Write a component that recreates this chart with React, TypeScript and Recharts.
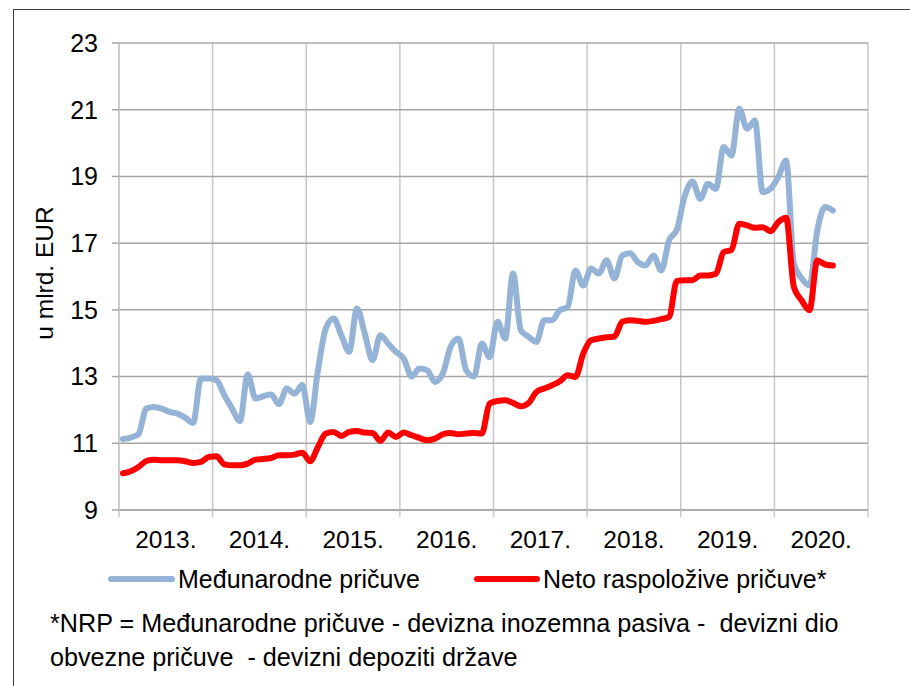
import { CartesianGrid, Line, LineChart, XAxis, YAxis } from "recharts";

const FONT = '"Liberation Sans", Arial, sans-serif';
const BLUE = "#95b3d7";
const RED = "#ff0000";

const YEARS = ["2013.", "2014.", "2015.", "2016.", "2017.", "2018.", "2019.", "2020."];
const Y_TICKS = [9, 11, 13, 15, 17, 19, 21, 23];

// monthly, Jan 2013 - Aug 2020
const MEDUNARODNE = [
  11.13, 11.17, 11.28, 12.04, 12.09, 12.04, 11.94, 11.89, 11.77, 11.61, 12.94, 12.94,
  12.89, 12.44, 12.04, 11.67, 13.06, 12.34, 12.41, 12.46, 12.17, 12.64, 12.49, 12.75,
  11.64, 13.19, 14.44, 14.74, 14.24, 13.74, 15.04, 14.29, 13.49, 14.24, 13.99, 13.74,
  13.54, 13.0, 13.24, 13.19, 12.84, 13.09, 13.89, 14.14, 13.19, 13.0, 13.99, 13.58,
  14.64, 14.14, 16.09, 14.39, 14.19, 14.04, 14.69, 14.69, 14.99, 15.08, 16.18, 15.73,
  16.24, 16.09, 16.49, 15.94, 16.63, 16.7, 16.43, 16.33, 16.63, 16.18, 17.08, 17.4,
  18.4, 18.85, 18.33, 18.78, 18.63, 19.88, 19.63, 21.03, 20.43, 20.68, 18.53, 18.63,
  18.98, 19.48, 16.39, 15.94, 15.73, 17.38, 18.08, 17.98,
];

const NETO = [
  10.1, 10.16, 10.29, 10.47, 10.51, 10.49, 10.49, 10.49, 10.46, 10.41, 10.44, 10.59,
  10.61, 10.37, 10.34, 10.34, 10.39, 10.51, 10.53, 10.56, 10.64, 10.64, 10.66, 10.72,
  10.46, 10.89, 11.29, 11.34, 11.22, 11.34, 11.37, 11.32, 11.31, 11.07, 11.32, 11.19,
  11.32, 11.24, 11.16, 11.09, 11.14, 11.27, 11.31, 11.27, 11.29, 11.31, 11.29, 12.19,
  12.27, 12.29, 12.21, 12.11, 12.21, 12.54, 12.64, 12.74, 12.86, 13.04, 12.99, 13.69,
  14.09, 14.14, 14.18, 14.2, 14.64, 14.69, 14.67, 14.64, 14.67, 14.72, 14.79, 15.87,
  15.89, 15.89, 16.03, 16.03, 16.08, 16.73, 16.8, 17.58, 17.53, 17.46, 17.48, 17.36,
  17.63, 17.76, 15.68, 15.28, 14.99, 16.48, 16.36, 16.33,
];

const data = MEDUNARODNE.map((v, i) => ({ m: i + 0.5, mp: v, nrp: NETO[i] }));
const MONTHS = YEARS.length * 12;
const X_TICKS = YEARS.map((_, i) => i * 12).concat(MONTHS);

const CHART_W = 910;
const CHART_H = 560;
const Y_AXIS_W = 119;
const RIGHT = 42;
const YEAR_PX = (CHART_W - Y_AXIS_W - RIGHT) / YEARS.length;

function YearTick(props: any) {
  const { x, y, payload } = props;
  const idx = Math.round(payload.value / 12);
  if (idx >= YEARS.length) return null;
  return (
    <text
      x={x + YEAR_PX / 2}
      y={y + 27}
      textAnchor="middle"
      fill="#000"
      fontSize={24.5}
      fontFamily={FONT}
    >
      {YEARS[idx]}
    </text>
  );
}

function LegendItem({ color, label, left, lineW }: { color: string; label: string; left: number; lineW: number }) {
  return (
    <div style={{ position: "absolute", left, top: 564, height: 30, display: "flex", alignItems: "center" }}>
      <span style={{ display: "inline-block", width: lineW, height: 6, borderRadius: 3, background: color, marginRight: 3 }} />
      <span style={{ fontSize: 25, fontFamily: FONT, color: "#000", whiteSpace: "pre" }}>{label}</span>
    </div>
  );
}

export default function App() {
  return (
    <div style={{ position: "absolute", left: 0, top: 0, width: 910, height: 686, overflow: "hidden", background: "#fff" }}>
      <div style={{ position: "absolute", left: 13, top: 9, width: 1000, height: 1000, border: "1px solid #3c3c3c" }} />
      <div style={{ position: "absolute", left: 0, top: 0 }}>
        <LineChart width={CHART_W} height={CHART_H} data={data} margin={{ top: 43, right: RIGHT, left: 0, bottom: 0 }}>
          <CartesianGrid horizontal={false} stroke="#c8c8c8" strokeWidth={1.5} />
          <CartesianGrid vertical={false} stroke="#a6a6a6" strokeWidth={1.5} />
          <XAxis
            dataKey="m"
            type="number"
            domain={[0, MONTHS]}
            ticks={X_TICKS}
            interval={0}
            height={50}
            tickSize={7}
            tickMargin={4}
            tickLine={{ stroke: "#c8c8c8", strokeWidth: 1.5 }}
            axisLine={{ stroke: "#a6a6a6", strokeWidth: 1.5 }}
            tick={<YearTick />}
          />
          <YAxis
            type="number"
            domain={[9, 23]}
            ticks={Y_TICKS}
            interval={0}
            width={Y_AXIS_W}
            tickSize={7}
            tickMargin={14}
            tickLine={{ stroke: "#a6a6a6", strokeWidth: 1.5 }}
            axisLine={{ stroke: "#c8c8c8", strokeWidth: 1.5 }}
            tick={{ fill: "#000", fontSize: 25, fontFamily: FONT }}
          />
          <Line
            type="monotone"
            dataKey="mp"
            stroke={BLUE}
            strokeWidth={6}
            strokeLinecap="round"
            strokeLinejoin="round"
            dot={false}
            isAnimationActive={false}
          />
          <Line
            type="monotone"
            dataKey="nrp"
            stroke={RED}
            strokeWidth={6}
            strokeLinecap="round"
            strokeLinejoin="round"
            dot={false}
            isAnimationActive={false}
          />
        </LineChart>
      </div>
      <div
        style={{
          position: "absolute",
          left: 45,
          top: 273,
          transform: "translate(-50%, -50%) rotate(-90deg)",
          fontSize: 24.5,
          fontFamily: FONT,
          whiteSpace: "nowrap",
          color: "#000",
        }}
      >
        u mlrd. EUR
      </div>
      <LegendItem color={BLUE} label="Međunarodne pričuve" left={108} lineW={67} />
      <LegendItem color={RED} label="Neto raspoložive pričuve*" left={474} lineW={66} />
      <div
        style={{
          position: "absolute",
          left: 50,
          top: 606,
          fontSize: 25.2,
          lineHeight: "34px",
          fontFamily: FONT,
          color: "#000",
          whiteSpace: "pre",
        }}
      >
        {"*NRP = Međunarodne pričuve - devizna inozemna pasiva -  devizni dio\nobvezne pričuve  - devizni depoziti države"}
      </div>
    </div>
  );
}
